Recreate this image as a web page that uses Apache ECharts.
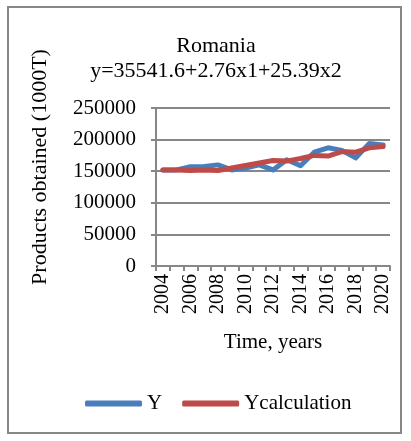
<!DOCTYPE html>
<html>
<head>
<meta charset="utf-8">
<script src="https://cdn.jsdelivr.net/npm/echarts@6/dist/echarts.min.js"></script>
<style>
  html, body { margin: 0; padding: 0; background: #fff; }
  #chart { width: 411px; height: 441px; }
</style>
</head>
<body>
<div id="chart"></div>
<script>
/* ---------------- data ---------------- */
let years = ['2004','2005','2006','2007','2008','2009','2010','2011','2012',
             '2013','2014','2015','2016','2017','2018','2019','2020'];
let yActual = [152000, 152000, 157000, 157500, 160000, 152000, 155000, 160000, 152000,
               168000, 158500, 180000, 187000, 183000, 171000, 194000, 191500];
let yCalc   = [152000, 152000, 151000, 152000, 151000, 155000, 159000, 163000, 167000,
               166000, 170000, 175000, 174000, 181000, 180000, 187000, 189000];

let serif = '"Liberation Serif", "DejaVu Serif", serif';
let grey = '#878787';

let option = {
    animation: false,
    backgroundColor: '#fff',
    title: {
        text: 'Romania\ny=35541.6+2.76x1+25.39x2',
        left: 211,
        textAlign: 'center',
        top: 29,
        textStyle: { fontFamily: serif, fontSize: 22, fontWeight: 'normal', color: '#000', lineHeight: 25 }
    },
    graphic: [
        {
            type: 'rect',
            shape: { x: 8, y: 7, width: 393, height: 426 },
            style: { fill: 'none', stroke: grey, lineWidth: 2 }
        },
        {
            // y axis title, placed by hand like the original
            type: 'text',
            x: 40,
            y: 167,
            rotation: Math.PI / 2,
            style: {
                text: 'Products obtained (1000T)',
                font: '22px ' + serif,
                fill: '#000',
                align: 'center',
                verticalAlign: 'middle'
            }
        }
    ],
    legend: {
        bottom: 22,
        left: 80,
        itemWidth: 57,
        itemHeight: 6,
        itemGap: 20,
        icon: 'roundRect',
        textStyle: { fontFamily: serif, fontSize: 21, color: '#000' },
        data: ['Y', 'Ycalculation']
    },
    grid: { left: 156, right: 21, top: 108, bottom: 175 },
    xAxis: {
        type: 'category',
        data: years,
        boundaryGap: true,
        name: 'Time, years',
        nameLocation: 'middle',
        nameGap: 66,
        nameTextStyle: { fontFamily: serif, fontSize: 21, color: '#000' },
        axisLine: { lineStyle: { color: grey, width: 2 } },
        axisTick: { show: true, interval: 0, length: 5, lineStyle: { color: grey, width: 2 } },
        axisLabel: { interval: 1, rotate: 90, fontFamily: serif, fontSize: 20, color: '#000', margin: 8 }
    },
    yAxis: {
        type: 'value',
        min: 0,
        max: 250000,
        interval: 50000,
        axisLine: { show: true, lineStyle: { color: grey, width: 2 } },
        axisTick: { show: true, length: 5, lineStyle: { color: grey, width: 2 } },
        axisLabel: { fontFamily: serif, fontSize: 21, color: '#000', margin: 20, formatter: v => String(v) },
        splitLine: { lineStyle: { color: grey, width: 2 } }
    },
    series: [
        {
            name: 'Y',
            type: 'line',
            data: yActual,
            symbol: 'none',
            lineStyle: { color: '#4A7EBB', width: 5, cap: 'round', join: 'round' },
            itemStyle: { color: '#4A7EBB' }
        },
        {
            name: 'Ycalculation',
            type: 'line',
            data: yCalc,
            symbol: 'none',
            lineStyle: { color: '#BE4B48', width: 5, cap: 'round', join: 'round' },
            itemStyle: { color: '#BE4B48' }
        }
    ]
};

echarts.init(document.querySelector('#chart')).setOption(option);
</script>
</body>
</html>
